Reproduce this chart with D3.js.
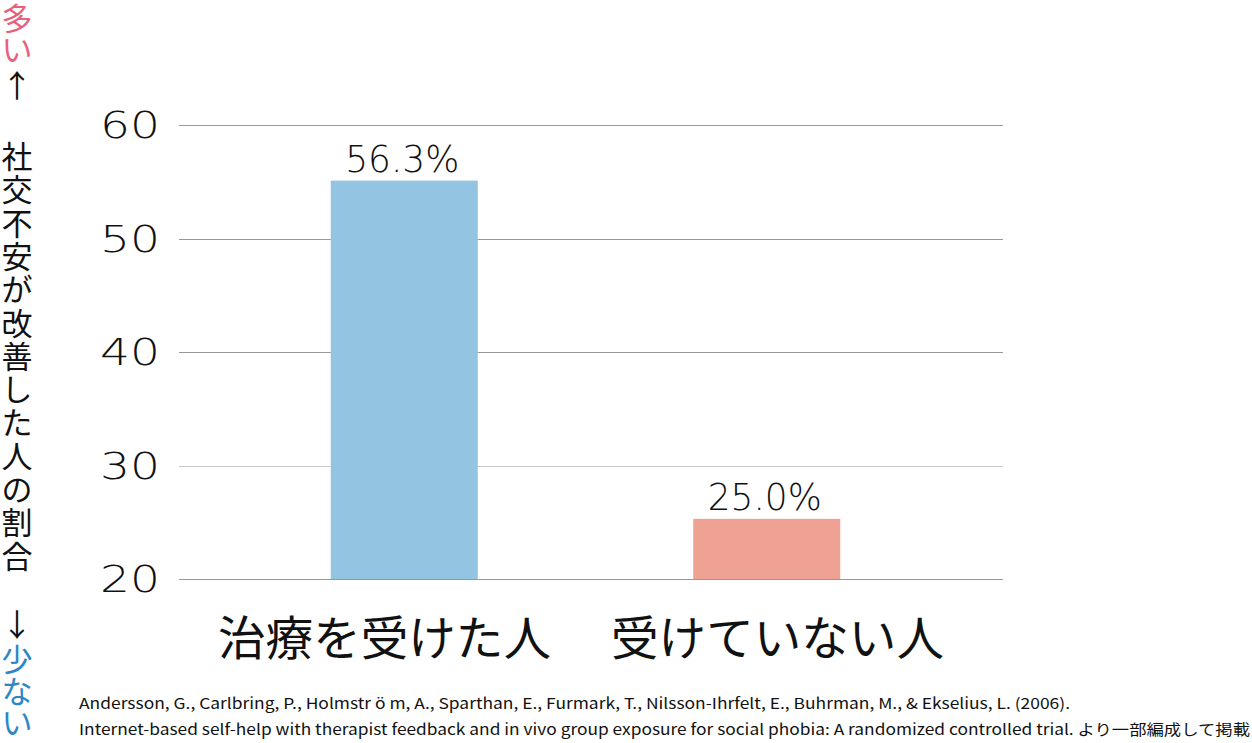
<!DOCTYPE html>
<html>
<head>
<meta charset="utf-8">
<script src="https://cdn.jsdelivr.net/npm/d3@7"></script>
<style>
  html, body { margin: 0; padding: 0; background: #fff; }
  svg { display: block; }
  text { font-family: "Noto Sans CJK JP", "Noto Sans", sans-serif; }
</style>
</head>
<body>
<svg id="chart" width="1252" height="743"></svg>
<script>
// ---- data ----
const categories = ["治療を受けた人", "受けていない人"];
const values = [55.1, 25.3];            // bar heights as drawn
const valueLabels = ["56.3%", "25.0%"]; // printed labels
const barColors = ["#93c5e2", "#efa194"];
const yTicks = [20, 30, 40, 50, 60];
const yTitleTop = ["多", "い"];
const yTitleMain = "社交不安が改善した人の割合".split("");
const yTitleBottom = ["少", "な", "い"];
const citation = [
  "Andersson, G., Carlbring, P., Holmstr ö m, A., Sparthan, E., Furmark, T., Nilsson-Ihrfelt, E., Buhrman, M., & Ekselius, L. (2006).",
  "Internet-based self-help with therapist feedback and in vivo group exposure for social phobia: A randomized controlled trial. より一部編成して掲載"
];

// ---- layout ----
const svg = d3.select("#chart");
const plotLeft = 179, plotRight = 1003;
const y = d3.scaleLinear().domain([20, 60]).range([579, 125]);
const x = d3.scalePoint().domain(categories).range([223, 948]).padding(0.5);
const xLabel = d3.scalePoint().domain(categories).range([384.5, 777.5]);
const barW = 147;

// gridlines
svg.append("g").selectAll("line").data(yTicks).join("line")
  .attr("x1", plotLeft).attr("x2", plotRight)
  .attr("y1", d => Math.round(y(d)) + 0.5).attr("y2", d => Math.round(y(d)) + 0.5)
  .attr("stroke", d => d === 30 ? "#c8c8c8" : "#999")
  .attr("stroke-width", 1.2);

// y tick labels
svg.append("g").selectAll("text").data(yTicks).join("text")
  .attr("x", 100).attr("y", d => y(d) + 13)
  .attr("text-anchor", "start")
  .attr("font-size", 37)
  .attr("textLength", 60)
  .attr("lengthAdjust", "spacingAndGlyphs")
  .attr("fill", "#111")
  .style("font-family", "'DejaVu Sans', sans-serif")
  .style("font-weight", 300)
  .text(d => d);

// value labels
svg.append("g").selectAll("text").data(values).join("text")
  .attr("x", (d, i) => x(categories[i]) - 2)
  .attr("y", d => y(d) - 9)
  .attr("text-anchor", "middle")
  .attr("font-size", 37)
  .attr("fill", "#111")
  .attr("textLength", 114)
  .attr("lengthAdjust", "spacingAndGlyphs")
  .style("font-family", "'DejaVu Sans', sans-serif")
  .style("font-weight", 300)
  .text((d, i) => valueLabels[i]);

// bars
svg.append("g").selectAll("rect").data(values).join("rect")
  .attr("x", (d, i) => x(categories[i]) - barW / 2)
  .attr("width", barW)
  .attr("y", d => y(d))
  .attr("height", d => y(20) - y(d))
  .attr("fill", (d, i) => barColors[i]);

// category labels
svg.append("g").selectAll("text").data(categories).join("text")
  .attr("x", d => xLabel(d))
  .attr("y", 655)
  .attr("text-anchor", "middle")
  .attr("font-size", 47)
  .attr("fill", "#111")
  .attr("textLength", 333)
  .attr("lengthAdjust", "spacingAndGlyphs")
  .text(d => d);

// vertical y title
const vt = svg.append("g").attr("font-size", 31).attr("text-anchor", "middle");
const colX = 17;
yTitleTop.forEach((c, i) => {
  vt.append("text").attr("x", colX).attr("y", 30 + i * 31).attr("fill", "#e8617c").text(c);
});
vt.append("text").attr("x", colX).attr("y", 97).attr("fill", "#111").text("↑");
yTitleMain.forEach((c, i) => {
  vt.append("text").attr("x", colX).attr("y", 168 + i * 33.3).attr("fill", "#111").text(c);
});
vt.append("text").attr("x", colX).attr("y", 636).attr("fill", "#111").text("↓");
yTitleBottom.forEach((c, i) => {
  vt.append("text").attr("x", colX).attr("y", 671 + i * 31.5).attr("fill", "#2d86c5").text(c);
});

// citation
svg.append("g").selectAll("text").data(citation).join("text")
  .attr("x", 79)
  .attr("y", (d, i) => 709 + i * 26)
  .attr("font-size", 15)
  .attr("fill", "#111")
  .attr("textLength", (d, i) => i === 0 ? 991 : 1171)
  .attr("lengthAdjust", "spacingAndGlyphs")
  .text(d => d);
</script>
</body>
</html>
